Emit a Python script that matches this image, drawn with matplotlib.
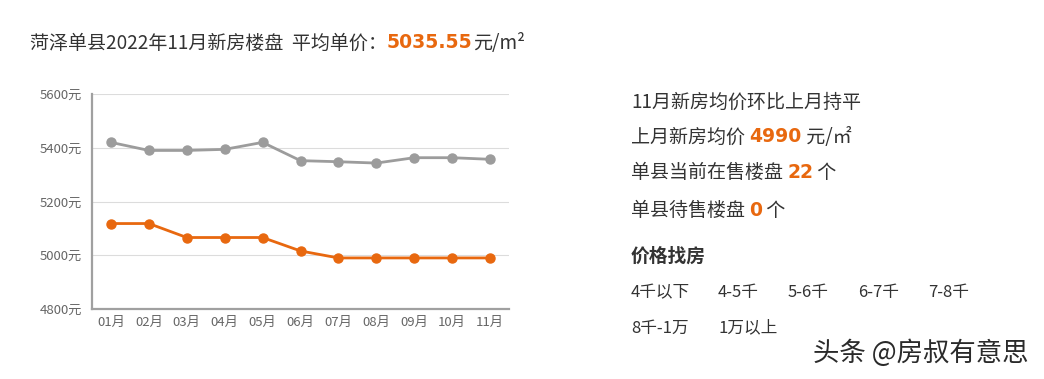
import matplotlib
matplotlib.use("Agg")
import matplotlib.pyplot as plt

plt.rcParams['font.family'] = ['Noto Sans CJK SC', 'DejaVu Sans']

# data
months = ['01月', '02月', '03月', '04月', '05月', '06月', '07月', '08月', '09月', '10月', '11月']
gray_prices = [5420, 5390, 5390, 5394, 5420, 5352, 5348, 5343, 5363, 5363, 5357]
orange_prices = [5118, 5118, 5066, 5066, 5066, 5016, 4990, 4990, 4990, 4990, 4990]
yticks = [4800, 5000, 5200, 5400, 5600]
avg_price = '5035.55'
last_month_price = '4990'
on_sale = '22'
pending = '0'
price_ranges = [['4千以下', '4-5千', '5-6千', '6-7千', '7-8千'], ['8千-1万', '1万以上']]

ORANGE = '#e8680f'
GRAY = '#9c9c9c'
TEXT = '#333333'

W, H = 1044, 379
fig = plt.figure(figsize=(W / 100, H / 100), dpi=100)
renderer = fig.canvas.get_renderer()


def segs(x, y, parts):
    # draw text pieces one after another, x/y in pixels from top-left
    for s, kw in parts:
        t = fig.text(x / W, 1 - y / H, s, va='center', ha='left', **kw)
        x += t.get_window_extent(renderer).width


normal = dict(fontsize=13.7, color=TEXT)
big = dict(fontsize=13.5, color=ORANGE, fontweight='bold', family=['DejaVu Sans'])

segs(30, 43, [('菏泽单县2022年11月新房楼盘  平均单价：', dict(fontsize=13.7, color=TEXT)),
              (avg_price, dict(fontsize=13.6, color=ORANGE, fontweight='bold', family=['DejaVu Sans'])),
              ('元/m²', dict(fontsize=13.7, color=TEXT))])

ax = fig.add_axes([92 / W, 1 - 309 / H, 417 / W, 215 / H])
x = range(len(months))
ax.plot(x, gray_prices, color=GRAY, lw=2, marker='o', ms=6.5, zorder=3)
ax.plot(x, orange_prices, color=ORANGE, lw=2, marker='o', ms=6.5, zorder=3)
ax.set_xlim(-0.5, len(months) - 0.5)
ax.set_ylim(yticks[0], yticks[-1])
ax.set_yticks(yticks)
ax.set_yticklabels([f'{v}元' for v in yticks])
ax.set_xticks(list(x))
ax.set_xticklabels(months)
ax.tick_params(length=0, labelsize=9.5, labelcolor='#666666')
ax.tick_params(axis='y', pad=7)
ax.tick_params(axis='x', pad=5)
ax.grid(axis='y', color='#dcdcdc', lw=0.8)
ax.set_axisbelow(True)
for s in ['top', 'right']:
    ax.spines[s].set_visible(False)
for s in ['left', 'bottom']:
    ax.spines[s].set_color('#a0a0a0')
    ax.spines[s].set_linewidth(1.6)

segs(631, 102, [('11月新房均价环比上月持平', normal)])
segs(631, 137, [('上月新房均价 ', normal), (last_month_price, big), (' 元/㎡', normal)])
segs(631, 173, [('单县当前在售楼盘 ', normal), (on_sale, big), (' 个', normal)])
segs(631, 210, [('单县待售楼盘 ', normal), (pending, big), (' 个', normal)])
fig.text(631 / W, 1 - 256 / H, '价格找房', fontsize=13.5, fontweight='bold', color=TEXT, va='center')

xs = [631, 718, 788, 858, 928]
for row, yy in zip(price_ranges, [293, 328]):
    for s, xx in zip(row, xs):
        fig.text(xx / W, 1 - yy / H, s, fontsize=12, color=TEXT, va='center')

fig.text(813 / W, 1 - 353 / H, '头条 @房叔有意思', fontsize=19, color='#2a2a2a', va='center')

fig.savefig('out.png', dpi=100, facecolor='white')
